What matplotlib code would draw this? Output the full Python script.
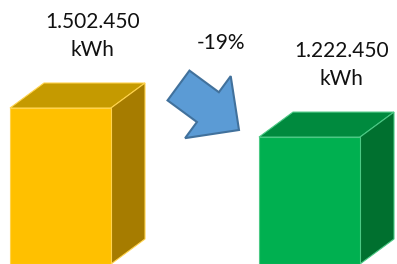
import matplotlib
matplotlib.use('Agg')
import matplotlib.pyplot as plt
from matplotlib.patches import Polygon, FancyArrow

# energy use before / after
categories = ['before', 'after']
values = [1502450, 1222450]
unit = 'kWh'
front_colors = ['#FFC000', '#00B050']
top_colors = ['#C59A00', '#008A3E']
side_colors = ['#A67C00', '#00702F']
edge_colors = ['#FFD34D', '#4CC985']

change = round((values[1] - values[0]) / values[0] * 100)

W, H = 397, 264
fig = plt.figure(figsize=(W / 100, H / 100), dpi=100)
ax = fig.add_axes([0, 0, 1, 1])

# pixel -> data scales
px_x = 249.0                # px between bar centres
px_y = values[0] / 156.0    # kWh per px
bw = 101 / px_x
dx = 34 / px_x
dy = 25 * px_y

xs = list(range(len(values)))
ax.bar(xs, values, width=bw, color=front_colors, edgecolor=edge_colors, linewidth=0.8, zorder=2)
for i in range(len(values)):
    x = xs[i]
    v = values[i]
    l = x - bw / 2
    r = x + bw / 2
    top = Polygon([(l, v), (r, v), (r + dx, v + dy), (l + dx, v + dy)], closed=True,
                  facecolor=top_colors[i], edgecolor=edge_colors[i], linewidth=0.8, zorder=1)
    side = Polygon([(r, 0), (r + dx, dy), (r + dx, v + dy), (r, v)], closed=True,
                   facecolor=side_colors[i], edgecolor=edge_colors[i], linewidth=0.8, zorder=1)
    ax.add_patch(top)
    ax.add_patch(side)
    lab = f"{v:,}".replace(',', '.') + '\n' + unit
    ax.text(x + 32 / px_x, v + dy + 47 * px_y, lab, ha='center', va='center',
            fontsize=15, family='Lato', linespacing=1.45, color='#111111')

ax.set_xlim(-60.5 / px_x, (W - 60.5) / px_x)
ax.set_ylim(0, H * px_y)
ax.axis('off')

# arrow overlay in pixel coords
ax2 = fig.add_axes([0, 0, 1, 1])
ax2.set_xlim(0, W)
ax2.set_ylim(H, 0)
ax2.axis('off')
ax2.patch.set_alpha(0)
arr = FancyArrow(178.5, 85.5, 60.5, 44.5, width=37, head_width=77, head_length=38.6,
                 length_includes_head=True, facecolor='#5B9BD5', edgecolor='#41719C', linewidth=1.5)
ax2.add_patch(arr)
ax2.text(221, 43, f"{change}%", ha='center', va='center', fontsize=15, family='Lato', color='#111111')

fig.savefig('out.png', dpi=100)
